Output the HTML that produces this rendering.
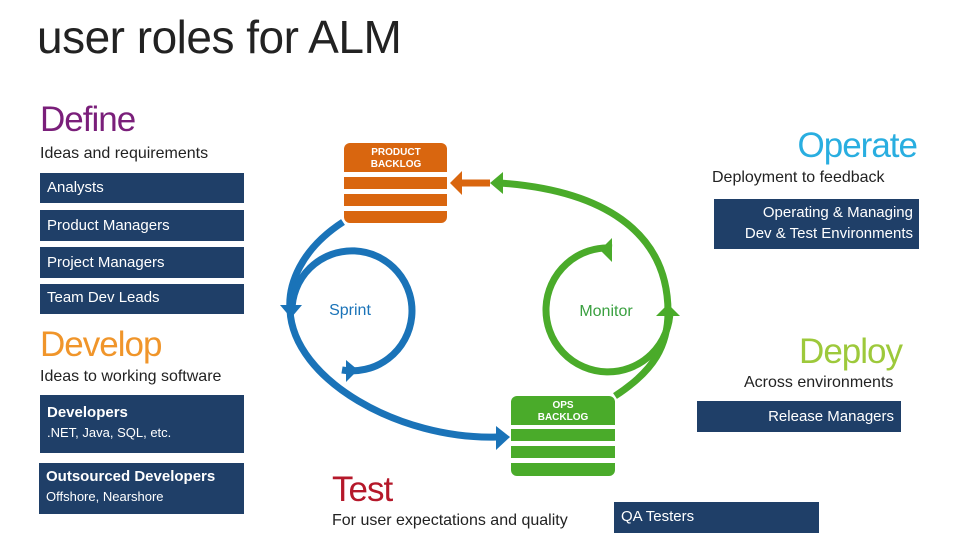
<!DOCTYPE html>
<html><head><meta charset="utf-8"><style>
body{margin:0;width:960px;height:540px;background:#fff;position:relative;overflow:hidden;font-family:"Liberation Sans",sans-serif;}
.a{position:absolute;white-space:nowrap}
.h{font-size:35px;letter-spacing:-1px}
.s{font-size:16px;color:#222}
.b{position:absolute;background:#1f3f68;color:#fff;font-size:15px;box-sizing:border-box;padding-left:7px}
</style></head><body>
<div class="a" style="left:37px;top:10px;font-size:46px;color:#222;letter-spacing:-0.5px">user roles for ALM</div>
<div class="a h" style="left:40px;top:100px;color:#7a1f7a">Define</div>
<div class="a s" style="left:40px;top:145px">Ideas and requirements</div>
<div class="b" style="left:40px;top:173px;width:204px;height:30px;line-height:30px">Analysts</div>
<div class="b" style="left:40px;top:210px;width:204px;height:31px;line-height:31px">Product Managers</div>
<div class="b" style="left:40px;top:247px;width:204px;height:31px;line-height:31px">Project Managers</div>
<div class="b" style="left:40px;top:284px;width:204px;height:30px;line-height:28px">Team Dev Leads</div>
<div class="a h" style="left:40px;top:325px;color:#f0952a">Develop</div>
<div class="a s" style="left:40px;top:368px">Ideas to working software</div>
<div class="b" style="left:40px;top:395px;width:204px;height:58px;padding-top:8px;line-height:20px"><b>Developers</b><br><span style="font-size:13px">.NET, Java, SQL, etc.</span></div>
<div class="b" style="left:39px;top:463px;width:205px;height:51px;padding-top:4px;line-height:20px"><b>Outsourced Developers</b><br><span style="font-size:13px">Offshore, Nearshore</span></div>
<div class="a h" style="left:332px;top:470px;color:#b5182a">Test</div>
<div class="a s" style="left:332px;top:512px">For user expectations and quality</div>
<div class="b" style="left:614px;top:502px;width:205px;height:31px;line-height:30px">QA Testers</div>
<div class="a h" style="right:43px;top:126px;color:#29aee0">Operate</div>
<div class="a s" style="left:712px;top:169px">Deployment to feedback</div>
<div class="b" style="left:714px;top:199px;width:205px;height:50px;padding:3px 6px 0 0;line-height:21px;text-align:right">Operating &amp; Managing<br>Dev &amp; Test Environments</div>
<div class="a h" style="right:58px;top:332px;color:#9dc93b">Deploy</div>
<div class="a s" style="left:744px;top:374px">Across environments</div>
<div class="b" style="left:697px;top:401px;width:204px;height:31px;line-height:31px;text-align:right;padding:0 7px 0 0">Release Managers</div>
<svg class="a" style="left:0;top:0" width="960" height="540">
<g fill="none" stroke-width="7">
<path d="M343,222 C300,250 288,285 290,310 C293,380 400,440 497,437" stroke="#1a73b8"/>
<path d="M342,370 A60,60 0 1 0 292,312" stroke="#1a73b8"/>
<path d="M615,396 C655,370 668,345 668,312 C668,230 600,190 500,183" stroke="#4aab2a"/>
<path d="M612,248 A62,62 0 1 0 670,310" stroke="#4aab2a"/>
<path d="M490,183 L460,183" stroke="#d9660f"/>
</g>
<g fill="#1a73b8"><polygon points="280,305 302,305 291,318"/><polygon points="346,360 346,382 358,370"/><polygon points="496,426 496,450 510,437"/></g>
<g fill="#4aab2a"><polygon points="656,316 680,316 668,304"/><polygon points="612,238 600,250 612,262"/><polygon points="503,172 503,194 490,183"/></g>
<polygon fill="#d9660f" points="462,171 462,195 450,183"/>
<g fill="#d9660f"><path d="M344,172 V149 a6,6 0 0 1 6,-6 H441 a6,6 0 0 1 6,6 V172Z"/><rect x="344" y="177" width="103" height="12"/><rect x="344" y="194" width="103" height="12"/><path d="M344,211 H447 V217 a6,6 0 0 1 -6,6 H350 a6,6 0 0 1 -6,-6Z"/></g>
<g fill="#4aab2a"><path d="M511,425 V402 a6,6 0 0 1 6,-6 H609 a6,6 0 0 1 6,6 V425Z"/><rect x="511" y="429" width="104" height="12"/><rect x="511" y="446" width="104" height="12"/><path d="M511,463 H615 V470 a6,6 0 0 1 -6,6 H517 a6,6 0 0 1 -6,-6Z"/></g>
<g font-family="Liberation Sans,sans-serif" font-weight="bold" font-size="10" fill="#fff" text-anchor="middle"><text x="396" y="155">PRODUCT</text><text x="396" y="167">BACKLOG</text><text x="563" y="408">OPS</text><text x="563" y="420">BACKLOG</text></g>
<text x="350" y="315" font-family="Liberation Sans,sans-serif" font-size="16" fill="#1a73b8" text-anchor="middle">Sprint</text>
<text x="606" y="316" font-family="Liberation Sans,sans-serif" font-size="16" fill="#3aa040" text-anchor="middle">Monitor</text>
</svg>
</body></html>
